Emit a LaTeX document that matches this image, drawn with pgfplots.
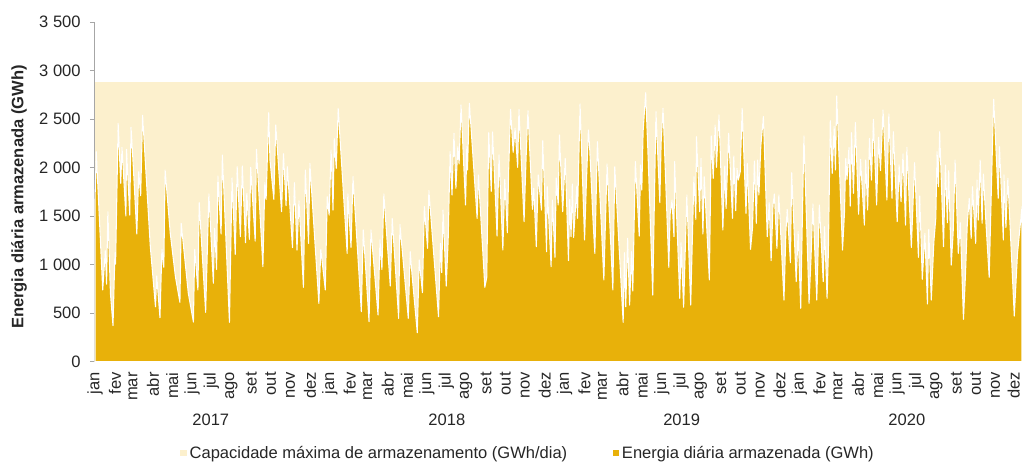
\documentclass[border=0pt]{standalone}
\usepackage{pgfplots}
\pgfplotsset{compat=1.18}
\usepackage{fontspec}
\setmainfont{Liberation Sans}
\setsansfont{Liberation Sans}

\definecolor{gold}{HTML}{E8B10A}
\definecolor{capfill}{HTML}{FCF0CD}
\definecolor{axgray}{HTML}{A6A6A6}
\definecolor{txt}{HTML}{262626}

\newcommand{\fs}{\fontsize{12.4}{14.5}\selectfont}

\begin{document}
\begin{tikzpicture}
\begin{axis}[
  scale only axis,
  width=695.25pt, height=254.6pt,
  xmin=0, xmax=1441, ymin=0, ymax=3500,
  clip=false,
  axis x line*=bottom, axis y line*=left,
  x axis line style={draw=none},
  y axis line style={draw=axgray, line width=0.75pt},
  tick align=outside, major tick length=3.75pt,
  xtick style={draw=none},
  ytick style={draw=axgray, line width=0.75pt},
  ytick={0,500,...,3500},
  yticklabels={0,500,1 000,1 500,2 000,2 500,3 000,3 500},
  yticklabel style={font=\fs, text=txt, xshift=-3.5pt},
  xtick={0,31,59,90,120,151,181,212,243,273,304,334,
         365,396,424,455,485,516,546,577,608,638,669,699,
         730,761,789,820,850,881,911,942,973,1003,1034,1064,
         1095,1126,1155,1186,1216,1247,1277,1308,1339,1369,1400,1430},
  xticklabels={jan,fev,mar,abr,mai,jun,jul,ago,set,out,nov,dez,
               jan,fev,mar,abr,mai,jun,jul,ago,set,out,nov,dez,
               jan,fev,mar,abr,mai,jun,jul,ago,set,out,nov,dez,
               jan,fev,mar,abr,mai,jun,jul,ago,set,out,nov,\raisebox{2pt}{dez}},
  xticklabel style={rotate=90, anchor=east, inner xsep=4pt, inner ysep=0.5pt, font=\fs, text=txt},
  ylabel={Energia diária armazenada (GWh)},
  ylabel style={font=\bfseries\fs, text=txt, at={(axis description cs:-0.082,0.485)}, anchor=center},
  legend style={at={(0.4675,-0.269)}, anchor=center, draw=none, fill=none,
    legend columns=2, font=\fs, text=txt,
    /tikz/every even column/.append style={column sep=32pt}},
  legend image code/.code={\fill[#1,draw=none] (0pt,-2.5pt) rectangle (5pt,2.5pt);},
]
\coordinate (sw) at (rel axis cs:0,0);
\coordinate (ne) at (rel axis cs:1,1);

\addplot[fill=capfill, draw=none] coordinates {(0,2880) (1441,2880)} \closedcycle;
\addlegendentry{Capacidade máxima de armazenamento (GWh/dia)}

\addplot[fill=gold, draw=white, line width=0.8pt, line join=round] coordinates {
(0,1665)(2,2165)(12,740)(16,1145)(18,800)(20,1547)(24,705)(28,372)(31,1124)(32,1007)
(36,2458)(40,1839)(42,2210)(48,1502)(49,2190)(54,1512)(56,2417)(59,2080)(65,1317)(68,1959)
(71,1712)(74,2540)(86,1186)(94,567)(96,884)(101,454)(104,1158)(107,973)(109,1977)(117,1324)
(125,877)(132,612)(134,1427)(145,708)(153,409)(155,1158)(160,740)(162,1640)(172,509)(177,1729)
(184,809)(186,1375)(189,952)(191,1915)(196,1317)(198,2130)(209,406)(213,1894)(218,1107)(221,2011)
(226,1289)(229,2018)(234,1227)(236,1736)(240,1262)(242,2004)(249,1244)(251,2190)(261,980)(264,1846)
(266,1674)(270,2568)(272,2080)(278,1674)(281,2441)(290,1547)(293,2144)(297,1609)(299,2011)(307,1176)
(310,1846)(314,1152)(317,1660)(324,767)(327,1977)(332,1220)(334,2045)(348,602)(351,1158)(358,740)
(361,1702)
(364,1512)(367,2183)(370,1564)(372,2300)(375,1994)(378,2612)(392,1117)(393,1729)(398,1179)(401,1908)
(414,516)(417,1358)(426,413)(429,1358)(440,482)(443,1255)(446,952)(449,1729)(459,781)(462,1478)
(472,447)(474,1416)(487,447)(490,1134)(493,884)(501,299)(504,1049)(509,712)(512,1599)(517,1169)
(519,1764)(534,464)(537,1220)(539,918)(541,1564)(546,781)(549,1255)(552,2166)(555,1719)(558,2355)
(561,1788)(564,2217)(566,2039)(569,2647)(576,1616)(578,2217)(579,1977)(582,2664)(594,1478)(596,1925)
(606,767)(609,870)(612,2362)(616,1757)(618,2369)(625,1296)(628,2132)(634,1152)(637,1880)(641,1330)
(643,1959)(646,2602)(650,2159)(653,2407)(657,2004)(659,2602)(667,1444)(670,2080)(673,2589)(680,1571)
(682,1788)(686,1186)(689,1925)(694,1564)(696,2279)(702,1134)(703,1805)(709,980)(711,1667)(715,1076)
(717,1894)
(720,1616)(722,2338)(727,1547)(731,2097)(736,1042)(738,1674)(740,1289)(742,1832)(744,1282)(749,1812)
(750,1478)(754,2657)(761,1255)(764,1873)(767,2389)(769,2200)(774,1478)(777,1117)(781,2269)(791,843)
(793,1324)(796,2039)(805,740)(808,2011)(821,406)(823,1124)(825,567)(828,1272)(831,584)(834,1134)
(836,729)(840,2063)(846,1296)(848,2028)(850,1770)(852,2372)(856,2774)(860,2080)(867,688)(872,2578)
(878,1640)(880,2252)(883,2613)(892,973)(894,1523)(897,1667)(900,1289)(901,2063)(909,654)(911,1227)
(915,561)(920,1719)(926,584)(931,1908)(934,1468)(935,2321)(940,1547)(942,2097)(945,1317)(947,1908)
(955,843)(958,2328)(961,1891)(964,2441)(966,2004)(970,2544)(976,1358)(979,2018)(981,1581)(985,2355)
(991,1478)(993,2121)(996,1557)(998,1994)(1000,1873)(1003,1959)(1006,2613)(1012,1530)(1014,2045)(1019,1158)
(1022,1375)(1025,2070)(1028,1427)(1030,2080)(1032,1719)(1035,2224)(1039,2527)(1045,1289)(1048,1640)(1051,1042)
(1054,1616)(1056,1729)(1060,1169)(1063,1719)(1071,636)(1074,1341)(1076,1571)(1081,1021)(1083,1949)(1090,826)
(1093,1341)
(1097,550)(1102,2328)(1110,602)(1113,1066)(1116,1626)(1122,636)(1126,1616)(1132,826)(1134,1392)(1138,654)
(1140,1124)(1143,2485)(1146,1942)(1149,2424)(1151,1977)(1153,2740)(1162,1152)(1165,1530)(1167,2097)(1169,1880)
(1172,2210)(1174,1605)(1176,2362)(1179,1736)(1182,2465)(1187,1520)(1190,2087)(1196,1409)(1198,2080)(1201,1564)
(1204,2303)(1207,1873)(1210,2499)(1215,1616)(1218,2314)(1221,1970)(1225,2596)(1231,1667)(1234,2554)(1239,1684)
(1241,2372)(1247,1444)(1250,2028)(1253,1650)(1256,2142)(1260,1409)(1262,2210)(1269,1179)(1274,2052)(1280,1076)
(1282,1709)(1286,850)(1290,1324)(1294,595)(1296,1365)(1300,636)(1304,1237)(1307,1478)(1309,2166)(1311,1805)
(1313,2372)(1319,1186)(1322,2028)(1325,1433)(1327,1970)(1331,997)(1334,1330)(1337,2080)(1342,1117)(1345,1433)
(1350,437)(1353,877)(1356,1427)(1359,1684)(1362,1272)(1364,1805)(1369,1220)(1371,1873)(1373,1461)(1376,2080)
(1379,1427)(1381,1935)(1385,1427)(1390,870)(1395,2210)(1397,2706)(1404,1684)(1406,2217)(1412,1255)(1413,1925)
(1416,1385)(1419,1891)(1429,471)(1434,1117)(1441,1598)
} \closedcycle;
\addlegendentry{Energia diária armazenada (GWh)}

\node[font=\fs, text=txt, yshift=-43.7pt] at (axis cs:180,0) {2017};
\node[font=\fs, text=txt, yshift=-43.7pt] at (axis cs:547,0) {2018};
\node[font=\fs, text=txt, yshift=-43.7pt] at (axis cs:912,0) {2019};
\node[font=\fs, text=txt, yshift=-43.7pt] at (axis cs:1262,0) {2020};
\end{axis}
\pgfresetboundingbox
\path ([shift={(-71.25pt,-75.2pt)}]sw) rectangle ([shift={(0pt,16.7pt)}]ne);
\end{tikzpicture}
\end{document}
